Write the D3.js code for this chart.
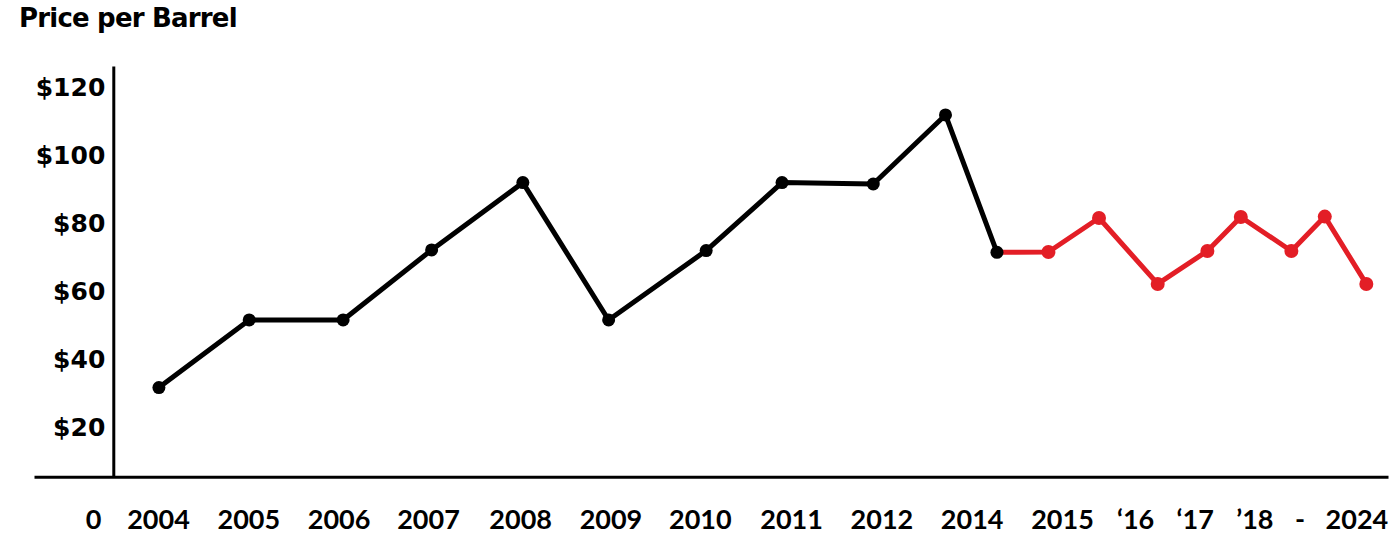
<!DOCTYPE html>
<html>
<head>
<meta charset="utf-8">
<script src="https://cdn.jsdelivr.net/npm/d3@7"></script>
<style>
  html, body { margin: 0; padding: 0; background: #fff; }
  svg { display: block; }
</style>
</head>
<body>
<svg id="chart"></svg>
<script>
const width = 1395;
const height = 547;

// x positions are in "label slots" (2004 = 0, one slot per label spacing)
const xLabels = ["0", "2004", "2005", "2006", "2007", "2008", "2009", "2010", "2011", "2012", "2014", "2015", "\u201816", "\u201817", "\u201918", "-", "2024"];
const xLabelSlots = [-0.72, 0, 1, 2, 2.99, 4.01, 5.01, 6, 7.01, 8.01, 9.01, 10.01, 10.82, 11.48, 12.14, 12.64, 13.27];

const yTicks = [20, 40, 60, 80, 100, 120];

// historical prices (black)
const pastSlots = [0.01, 1.01, 2.05, 3.03, 4.04, 4.99, 6.07, 6.91, 7.92, 8.72, 9.29];
const pastPrices = [31.3, 51.2, 51.2, 71.8, 91.6, 51.2, 71.6, 91.6, 91.2, 111.5, 71.1];

// projected prices (red)
const futureSlots = [9.86, 10.42, 11.07, 11.62, 11.99, 12.55, 12.92, 13.38];
const futurePrices = [71.2, 81.2, 61.8, 71.5, 81.5, 71.5, 81.6, 61.8];

const red = "#e31e26";

const svg = d3.select("#chart")
  .attr("width", width)
  .attr("height", height)
  .attr("viewBox", [0, 0, width, height]);

const x = d3.scaleLinear()
  .domain([-1.373, 13.62])
  .range([34, 1388]);

const y = d3.scaleLinear()
  .domain([5.1, 125.9])
  .range([476.7, 66]);

svg.append("text")
  .attr("x", 19)
  .attr("y", 27)
  .attr("fill", "#000")
  .style("font-family", "'DejaVu Sans', Verdana, sans-serif")
  .style("font-weight", "bold")
  .style("font-size", "26px")
  .style("letter-spacing", "-0.8px")
  .text("Price per Barrel");

// y axis
const yAxis = svg.append("g")
  .attr("transform", `translate(${x(-0.495)},0)`)
  .call(d3.axisLeft(y)
    .tickValues(yTicks)
    .tickFormat(d => `$${d}`)
    .tickSize(0)
    .tickSizeOuter(0)
    .tickPadding(8));

yAxis.select(".domain")
  .attr("stroke", "#000")
  .attr("stroke-width", 3);

yAxis.selectAll("text")
  .attr("dy", "0.36em")
  .attr("fill", "#000")
  .style("font-family", "'DejaVu Sans', Verdana, sans-serif")
  .style("font-weight", "bold")
  .style("font-size", "25px");

// x axis (baseline)
const xAxis = svg.append("g")
  .attr("transform", `translate(0,${y(5.1)})`)
  .call(d3.axisBottom(x)
    .tickValues(xLabelSlots)
    .tickFormat((d, i) => xLabels[i])
    .tickSize(0)
    .tickSizeOuter(0)
    .tickPadding(33));

xAxis.select(".domain")
  .attr("stroke", "#000")
  .attr("stroke-width", 3);

xAxis.selectAll("text")
  .attr("fill", "#000")
  .style("font-family", "Lato, 'Open Sans', sans-serif")
  .style("font-weight", "bold")
  .style("font-size", "27px");

const past = pastSlots.map((s, i) => ({ s, v: pastPrices[i] }));
const future = futureSlots.map((s, i) => ({ s, v: futurePrices[i] }));

const line = d3.line()
  .x(d => x(d.s))
  .y(d => y(d.v));

svg.append("path")
  .datum([past[past.length - 1], ...future])
  .attr("fill", "none")
  .attr("stroke", red)
  .attr("stroke-width", 5)
  .attr("stroke-linejoin", "round")
  .attr("d", line);

svg.append("path")
  .datum(past)
  .attr("fill", "none")
  .attr("stroke", "#000")
  .attr("stroke-width", 5)
  .attr("stroke-linejoin", "round")
  .attr("d", line);

svg.append("g")
  .selectAll("circle")
  .data(future)
  .join("circle")
  .attr("cx", d => x(d.s))
  .attr("cy", d => y(d.v))
  .attr("r", 7)
  .attr("fill", red);

svg.append("g")
  .selectAll("circle")
  .data(past)
  .join("circle")
  .attr("cx", d => x(d.s))
  .attr("cy", d => y(d.v))
  .attr("r", 6.5)
  .attr("fill", "#000");
</script>
</body>
</html>
